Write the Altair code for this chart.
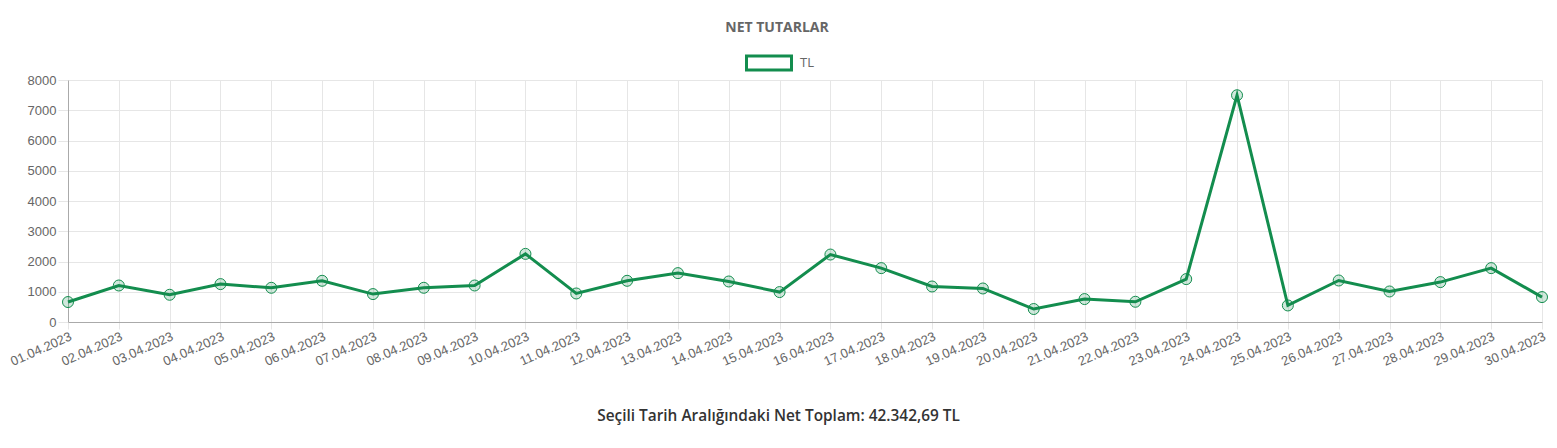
import altair as alt
import pandas as pd

dates = [f"{d:02d}.04.2023" for d in range(1, 31)]
values = [660, 1207, 900, 1253, 1131, 1362, 923, 1131, 1207, 2252,
          943, 1362, 1616, 1339, 989, 2230, 1781, 1174, 1108, 429,
          758, 669, 1418, 7496, 547, 1372, 1009, 1319, 1781, 824]
series = ["TL"] * len(dates)
y_ticks = [0, 1000, 2000, 3000, 4000, 5000, 6000, 7000, 8000]
total_text = "Seçili Tarih Aralığındaki Net Toplam: 42.342,69 TL"
title_text = "NET TUTARLAR"

df = pd.DataFrame({"date": dates, "value": values, "series": series})

GREEN = "#138D4E"
GRID = "#e6e6e6"
W, H = 1474, 242

x = alt.X(
    "date:O",
    sort=None,
    scale=alt.Scale(type="point", padding=0),
    axis=alt.Axis(
        title=total_text,
        titleFont="Open Sans",
        titleFontSize=15.4,
        titleFontWeight=600,
        titleColor="#333333",
        titleAnchor="start",
        titleAlign="center",
        titleBaseline="middle",
        titleX=710,
        titleY=93,
        labelAngle=-24,
        labelAlign="right",
        labelBaseline="top",
        labelFont="Liberation Sans",
        labelFontSize=13,
        labelColor="#666666",
        labelPadding=1,
        labelOverlap=False,
        ticks=True,
        tickSize=7,
        tickColor=GRID,
        grid=True,
        gridColor=GRID,
        domainColor="#aaaaaa",
    ),
)
y = alt.Y(
    "value:Q",
    scale=alt.Scale(domain=[0, 8000], nice=False),
    axis=alt.Axis(
        title=None,
        values=y_ticks,
        format="d",
        labelFont="Liberation Sans",
        labelFontSize=13,
        labelColor="#666666",
        labelPadding=2,
        ticks=True,
        tickSize=10,
        tickColor=GRID,
        grid=True,
        gridColor=GRID,
        domainColor="#aaaaaa",
    ),
)

color = alt.Color(
    "series:N",
    scale=alt.Scale(range=[GREEN]),
    legend=alt.Legend(
        title=None,
        orient="none",
        legendX=677,
        legendY=-41,
        padding=0,
        symbolType="M-1,-0.31H1V0.31H-1Z",
        symbolSize=2025,
        symbolStrokeWidth=3,
        symbolFillColor="white",
        symbolStrokeColor=GREEN,
        labelFont="Open Sans",
        labelFontSize=13,
        labelColor="#666666",
        labelOffset=7,
    ),
)

line = alt.Chart(df).mark_line(strokeWidth=3).encode(x=x, y=y, color=color)
points = alt.Chart(df).mark_point(
    filled=True, size=121, fill=GREEN, fillOpacity=0.2,
    stroke=GREEN, strokeWidth=1, strokeOpacity=1, opacity=1
).encode(x=x, y=y)

chart = alt.layer(line, points).properties(
    width=W,
    height=H,
    title=alt.TitleParams(
        text=title_text,
        font="Open Sans",
        fontSize=14,
        fontWeight="bold",
        color="#666666",
        anchor="middle",
        dx=-28,
        offset=4,
    ),
    autosize=alt.AutoSizeParams(type="none"),
    padding={"left": 60, "top": 72, "right": 7, "bottom": 126},
).configure_view(stroke=None)

chart.save("out.html", embed_options={"renderer": "svg", "actions": False})
